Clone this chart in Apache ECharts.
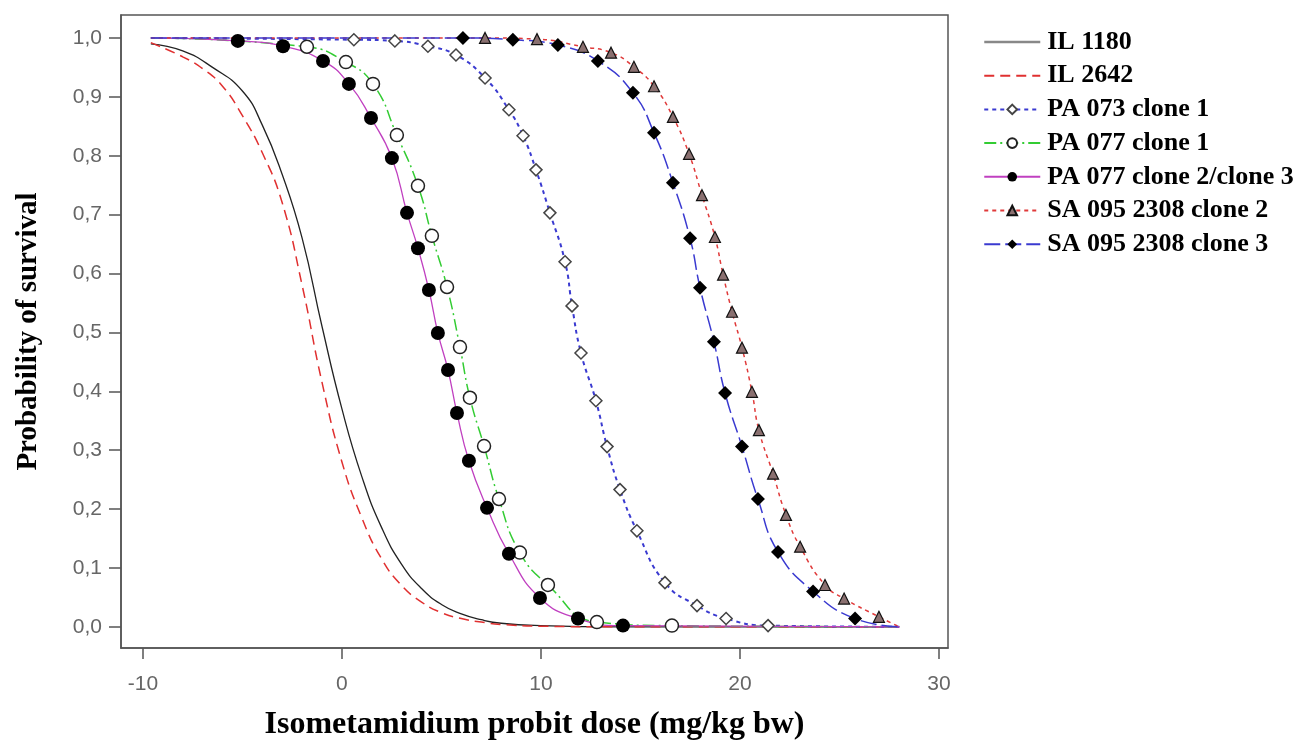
<!DOCTYPE html>
<html>
<head>
<meta charset="utf-8">
<title>Probability of survival</title>
<script src="https://cdn.jsdelivr.net/npm/echarts@6/dist/echarts.min.js"></script>
<style>
  html, body { margin: 0; padding: 0; background: #fff; }
  #chart { width: 1302px; height: 751px; }
</style>
</head>
<body>
<div id="chart"></div>
<script>
// values: [dose, probability]
var xTicks = [-10, 0, 10, 20, 30];
var yTicks = [0, 0.1, 0.2, 0.3, 0.4, 0.5, 0.6, 0.7, 0.8, 0.9, 1.0];

var lineStart = [-9.6, 1.0];
var lineEnd = [28, 0];

var il1180 = [[-9.6,0.99],[-8,0.978],[-6.5,0.95],[-5,0.91],[-4,0.852],[-3,0.768],[-2,0.66],[-1,0.51],
  [0,0.37],[1,0.255],[2,0.168],[3,0.106],[4,0.065],[5,0.038],[6,0.022],[7,0.012],[8,0.006],[10,0.002],[14,0],[28,0]];
var il2642 = [[-9.6,0.992],[-8,0.968],[-7,0.948],[-6,0.918],[-5,0.868],[-4,0.805],[-3,0.72],[-2,0.58],[-1,0.415],
  [0,0.28],[1,0.185],[2,0.115],[3,0.07],[4,0.042],[5,0.024],[6,0.014],[7,0.008],[8,0.004],[10,0.001],[14,0],[28,0]];
var pa073c1 = [[0.6,0.997],[2.66,0.995],[4.32,0.986],[5.73,0.971],[7.19,0.932],[8.39,0.878],[9.1,0.834],[9.75,0.776],
  [10.45,0.703],[11.21,0.62],[11.56,0.545],[12.01,0.465],[12.76,0.384],[13.32,0.306],[13.97,0.233],[14.82,0.163],
  [16.23,0.075],[17.84,0.036],[19.3,0.014],[21.41,0.002]];
var pa077c1 = [[-1.76,0.985],[0.2,0.959],[1.56,0.922],[2.76,0.835],[3.82,0.749],[4.52,0.664],[5.28,0.577],[5.93,0.475],
  [6.43,0.389],[7.14,0.307],[7.89,0.217],[8.94,0.126],[10.35,0.071],[12.81,0.008],[16.58,0.002]];
var pa077c23 = [[-5.23,0.995],[-2.96,0.986],[-0.95,0.961],[0.35,0.922],[1.46,0.864],[2.51,0.796],[3.27,0.703],[3.82,0.643],
  [4.37,0.572],[4.82,0.499],[5.33,0.436],[5.78,0.363],[6.38,0.282],[7.29,0.202],[8.39,0.124],[9.95,0.049],[11.86,0.014],[14.12,0.002]];
var sa095c2 = [[7.19,1.0],[9.8,0.998],[12.11,0.985],[13.52,0.975],[14.67,0.951],[15.68,0.918],[16.63,0.866],[17.44,0.803],
  [18.09,0.733],[18.74,0.662],[19.15,0.598],[19.6,0.535],[20.1,0.474],[20.6,0.399],[20.95,0.334],[21.66,0.26],
  [22.31,0.19],[23.02,0.136],[24.27,0.071],[25.23,0.048],[26.98,0.017]];
var sa095c3 = [[6.08,1.0],[8.59,0.997],[10.85,0.988],[12.86,0.961],[14.62,0.907],[15.68,0.839],[16.63,0.754],[17.49,0.66],
  [17.99,0.576],[18.69,0.484],[19.25,0.397],[20.1,0.306],[20.9,0.217],[21.91,0.127],[23.67,0.06],[25.78,0.014]];

// marker curves run from the left edge to the right edge, markers only on measured points
function withEnds(points) {
  var out = [{ value: lineStart, symbol: 'none' }];
  for (var i = 0; i < points.length; i++) out.push(points[i]);
  out.push({ value: lineEnd, symbol: 'none' });
  return out;
}

function comma(v) {
  return v.toFixed(1).replace('.', ',');
}

var serif = 'Liberation Serif';
var noDot = { color: 'transparent', borderWidth: 0 };
var tickFont = { color: '#666', fontFamily: 'Liberation Sans', fontSize: 21 };

var myChart = echarts.init(document.getElementById('chart'));
var option = {
  backgroundColor: '#fff',
  animation: false,
  grid: {
    left: 121, top: 15, right: 354, bottom: 103,
    show: true, borderColor: '#555', borderWidth: 1.5, backgroundColor: 'transparent'
  },
  legend: {
    orient: 'vertical',
    left: 978,
    top: 24,
    itemWidth: 56,
    itemHeight: 12,
    itemGap: 7.7,
    textStyle: { fontFamily: serif, fontWeight: 'bold', fontSize: 26, color: '#000', padding: [0, 0, 0, 2] },
    data: [
      { name: 'IL 1180', itemStyle: noDot, lineStyle: { color: '#888', width: 2.5 } },
      { name: 'IL 2642', itemStyle: noDot },
      'PA 073 clone 1', 'PA 077 clone 1', 'PA 077 clone 2/clone 3', 'SA 095 2308 clone 2', 'SA 095 2308 clone 3'
    ]
  },
  xAxis: {
    type: 'value',
    min: -11.1,
    max: 30.45,
    name: 'Isometamidium probit dose (mg/kg bw)',
    nameLocation: 'middle',
    nameGap: 61,
    nameTextStyle: { fontFamily: serif, fontWeight: 'bold', fontSize: 32, color: '#000' },
    axisLine: { show: true, onZero: false, lineStyle: { color: '#555', width: 1.5 } },
    axisTick: { show: true, customValues: xTicks, length: 11, lineStyle: { color: '#555', width: 1.5 } },
    axisLabel: Object.assign({ customValues: xTicks, margin: 26 }, tickFont),
    splitLine: { show: false }
  },
  yAxis: {
    type: 'value',
    min: -0.036,
    max: 1.039,
    name: 'Probability of survival',
    nameLocation: 'middle',
    nameRotate: 90,
    nameGap: 78,
    nameTextStyle: { fontFamily: serif, fontWeight: 'bold', fontSize: 29, color: '#000' },
    axisLine: { show: true, onZero: false, lineStyle: { color: '#555', width: 1.5 } },
    axisTick: { show: true, customValues: yTicks, length: 12, lineStyle: { color: '#555', width: 1.5 } },
    axisLabel: Object.assign({ customValues: yTicks, margin: 19, formatter: comma }, tickFont),
    splitLine: { show: false }
  },
  series: [
    {
      name: 'IL 1180', type: 'line', smooth: 0.5, symbol: 'none',
      itemStyle: { color: '#222' },
      lineStyle: { color: '#222', width: 1.3 },
      data: il1180
    },
    {
      name: 'IL 2642', type: 'line', smooth: 0.5, symbol: 'none',
      itemStyle: { color: '#e03030' },
      lineStyle: { color: '#e03030', width: 1.5, type: [10, 6] },
      data: il2642
    },
    {
      name: 'PA 073 clone 1', type: 'line', smooth: 0.5,
      symbol: 'diamond', symbolSize: 12,
      itemStyle: { color: '#fff', borderColor: '#444', borderWidth: 1.5 },
      lineStyle: { color: '#3a3ad0', width: 2, type: [4, 4] },
      data: withEnds(pa073c1)
    },
    {
      name: 'PA 077 clone 1', type: 'line', smooth: 0.5,
      symbol: 'circle', symbolSize: 13,
      itemStyle: { color: '#fff', borderColor: '#222', borderWidth: 1.5 },
      lineStyle: { color: '#33cc33', width: 1.5, type: [12, 4, 2, 4] },
      data: withEnds(pa077c1)
    },
    {
      name: 'PA 077 clone 2/clone 3', type: 'line', smooth: 0.5,
      symbol: 'circle', symbolSize: 14,
      itemStyle: { color: '#000' },
      lineStyle: { color: '#c040c0', width: 1.3 },
      data: withEnds(pa077c23)
    },
    {
      name: 'SA 095 2308 clone 2', type: 'line', smooth: 0.5,
      symbol: 'triangle', symbolSize: 11,
      itemStyle: { color: '#8a7070', borderColor: '#111', borderWidth: 1.2 },
      lineStyle: { color: '#e03a3a', width: 1.5, type: [4, 4] },
      data: withEnds(sa095c2)
    },
    {
      name: 'SA 095 2308 clone 3', type: 'line', smooth: 0.5,
      symbol: 'diamond', symbolSize: 14,
      itemStyle: { color: '#000' },
      lineStyle: { color: '#3a3ad0', width: 1.5, type: [16, 5] },
      data: withEnds(sa095c3)
    }
  ]
};
myChart.setOption(option);
</script>
</body>
</html>
